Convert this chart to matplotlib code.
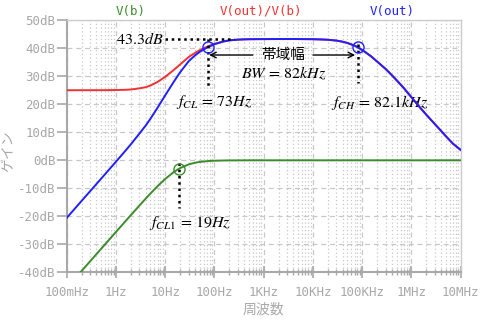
import matplotlib
matplotlib.use("Agg")
import matplotlib.pyplot as plt
from matplotlib.ticker import FixedLocator, LogLocator, NullFormatter
import numpy as np

plt.rcParams['mathtext.fontset'] = 'stix'

# 周波数特性 (Hz / dB)
freq = [0.1, 0.15, 0.2, 0.3, 0.4, 0.5, 0.7,
        1, 1.5, 2, 3, 4, 5, 7,
        10, 15, 20, 30, 40, 50, 70, 73,
        100, 150, 200, 300, 400, 500, 700,
        1e3, 1.5e3, 2e3, 3e3, 4e3, 5e3, 7e3,
        1e4, 1.5e4, 2e4, 3e4, 4e4, 5e4, 7e4, 8.21e4,
        1e5, 1.5e5, 2e5, 3e5, 4e5, 5e5, 7e5,
        1e6, 1.5e6, 2e6, 3e6, 4e6, 5e6, 7e6, 1e7]
gain_b = [-45.58, -42.05, -39.55, -36.03, -33.54, -31.60, -28.68,
          -25.59, -22.08, -19.60, -16.14, -13.72, -11.89, -9.23,
          -6.64, -4.16, -2.79, -1.46, -0.88, -0.59, -0.31, -0.28,
          -0.15, -0.07, -0.04, -0.02, -0.01, 0, 0,
          0, 0, 0, 0, 0, 0, 0,
          0, 0, 0, 0, 0, 0, 0, 0,
          0, 0, 0, 0, 0, 0, 0,
          0, 0, 0, 0, 0, 0, 0, 0]
gain_ratio = [25.02, 25.02, 25.03, 25.03, 25.04, 25.04, 25.06,
              25.09, 25.17, 25.28, 25.7, 26.1, 26.7, 28.0,
              29.8, 32.3, 34.2, 36.9, 38.3, 39.3, 40.5, 40.65,
              41.6, 42.45, 42.86, 43.10, 43.19, 43.23, 43.26,
              43.28, 43.29, 43.3, 43.3, 43.3, 43.29, 43.27,
              43.24, 43.15, 43.05, 42.75, 42.35, 41.9, 40.95, 40.3,
              39.4, 37.2, 35.3, 32.6, 30.4, 28.6, 25.8,
              22.5, 18.8, 16.3, 12.9, 10.5, 8.6, 5.9, 3.7]
gain_out = [-20.56, -17.03, -14.52, -11.0, -8.5, -6.56, -3.62,
            -0.5, 3.09, 5.68, 9.56, 12.38, 14.8, 18.8,
            23.2, 28.1, 31.4, 35.4, 37.4, 38.7, 40.2, 40.37,
            41.45, 42.38, 42.82, 43.08, 43.18, 43.23, 43.26,
            43.28, 43.29, 43.3, 43.3, 43.3, 43.29, 43.27,
            43.24, 43.15, 43.05, 42.75, 42.35, 41.9, 40.95, 40.3,
            39.4, 37.2, 35.3, 32.6, 30.4, 28.6, 25.8,
            22.5, 18.8, 16.3, 12.9, 10.5, 8.6, 5.9, 3.7]

x_ticks = [0.1, 1, 10, 100, 1e3, 1e4, 1e5, 1e6, 1e7]
x_labels = ['100mHz', '1Hz', '10Hz', '100Hz', '1KHz', '10KHz', '100KHz', '1MHz', '10MHz']
y_ticks = [-40, -30, -20, -10, 0, 10, 20, 30, 40, 50]

g_mid = 43.3
f_cl, f_ch, f_cl1 = 73, 82.1e3, 19
g_cut, g_cut1 = 40.3, -3.0

c_green = '#3c8c2c'
c_red = '#f03232'
c_blue = '#2020ff'
c_grey = '#a8a8a8'
mono = 'DejaVu Sans Mono'
jp = ['Noto Sans CJK JP', 'DejaVu Sans']

fig = plt.figure(figsize=(5.02, 3.22), dpi=100)
ax = fig.add_axes([0.1329, 0.1543, 0.7848, 0.7827])

ax.plot(freq, gain_b, color=c_green, lw=1.4, zorder=3)
ax.plot(freq, gain_ratio, color=c_red, lw=1.4, zorder=4)
ax.plot(freq, gain_out, color=c_blue, lw=1.4, zorder=5)

ax.set_xscale('log')
ax.set_xlim(0.1, 1e7)
ax.set_ylim(-40, 50)

ax.xaxis.set_major_locator(FixedLocator(x_ticks))
ax.set_xticklabels(x_labels)
ax.xaxis.set_minor_locator(LogLocator(base=10, subs=np.arange(2, 10), numticks=100))
ax.xaxis.set_minor_formatter(NullFormatter())
ax.set_yticks(y_ticks)
ax.set_yticklabels([f'{v}dB' for v in y_ticks])

for lab in ax.get_xticklabels() + ax.get_yticklabels():
    lab.set_fontfamily(mono)
    lab.set_fontsize(9)
    lab.set_color(c_grey)

ax.tick_params(axis='y', which='major', direction='out', length=7, width=1.2,
               color=c_grey, pad=1)
ax.tick_params(axis='x', which='major', direction='inout', length=9, width=1.2,
               color=c_grey, pad=5)
ax.tick_params(axis='x', which='minor', direction='inout', length=5, width=1,
               color=c_grey)

# グリッド
ax.grid(True, which='major', color='#c8c8c8', linestyle=(0, (4, 3)), lw=0.9)
ax.xaxis.grid(True, which='minor', color='#c8c8c8', linestyle=(0, (1, 2)), lw=0.9)
ax.set_axisbelow(True)

for side in ['left', 'bottom']:
    ax.spines[side].set_color(c_grey)
    ax.spines[side].set_linewidth(1.5)
for side in ['top', 'right']:
    ax.spines[side].set_color('#cccccc')
    ax.spines[side].set_linewidth(1.0)

ax.set_xlabel('周波数', fontfamily=jp, fontsize=10, color=c_grey, labelpad=3)
ax.set_ylabel('ゲイン', fontfamily=jp, fontsize=10, color=c_grey)
ax.yaxis.set_label_coords(-0.13, 0.48)

# トレース名
fig.text(131 / 502, 1 - 11 / 322, 'V(b)', color=c_green, fontfamily=mono,
         fontsize=9, ha='center', va='center')
fig.text(261 / 502, 1 - 11 / 322, 'V(out)/V(b)', color=c_red, fontfamily=mono,
         fontsize=9, ha='center', va='center')
fig.text(392 / 502, 1 - 11 / 322, 'V(out)', color=c_blue, fontfamily=mono,
         fontsize=9, ha='center', va='center')

# 中域ゲインと遮断周波数
dot = dict(color='black', lw=1.8, linestyle=(0, (1, 1.5)), zorder=6)
ax.plot([10, 250], [g_mid, g_mid], **dot)
ax.plot([f_cl, f_cl], [g_mid, 26.3], **dot)
ax.plot([f_ch, f_ch], [41.5, 27.6], **dot)
ax.plot([f_cl1, f_cl1], [-1.0, -17.0], **dot)

ax.plot([f_cl, f_ch], [g_cut, g_cut], 'o', ms=8, mfc='none', mec=c_blue,
        mew=1.0, zorder=7)
ax.plot([f_cl1], [g_cut1], 'o', ms=8, mfc='none', mec=c_green, mew=1.0, zorder=7)

ax.text(9.0, g_mid, '$43.3dB$', fontsize=11.5, ha='right', va='center')
ax.text(2470, 37.6, '帯域幅', fontfamily=jp, fontsize=10.5, ha='center', va='center')
ax.text(2500, 31.2, r'$BW\,=\,82kHz$', fontsize=11.5, ha='center', va='center')
ax.text(98, 20.8, r'$f_{CL}\,=\,73Hz$', fontsize=11.5, ha='center', va='center')
ax.text(229e3, 20.8, r'$f_{CH}\,=\,82.1kHz$', fontsize=11.5, ha='center', va='center')
ax.text(31.9, -22.4, r'$f_{CL1}\,=\,19Hz$', fontsize=11.5, ha='center', va='center')

arrow = dict(arrowstyle='->', color='black', lw=1.0, shrinkA=0, shrinkB=0)
ax.annotate('', xy=(78, 37.6), xytext=(600, 37.6), arrowprops=arrow)
ax.annotate('', xy=(72e3, 37.6), xytext=(10e3, 37.6), arrowprops=arrow)

fig.savefig('out.png', dpi=100)
